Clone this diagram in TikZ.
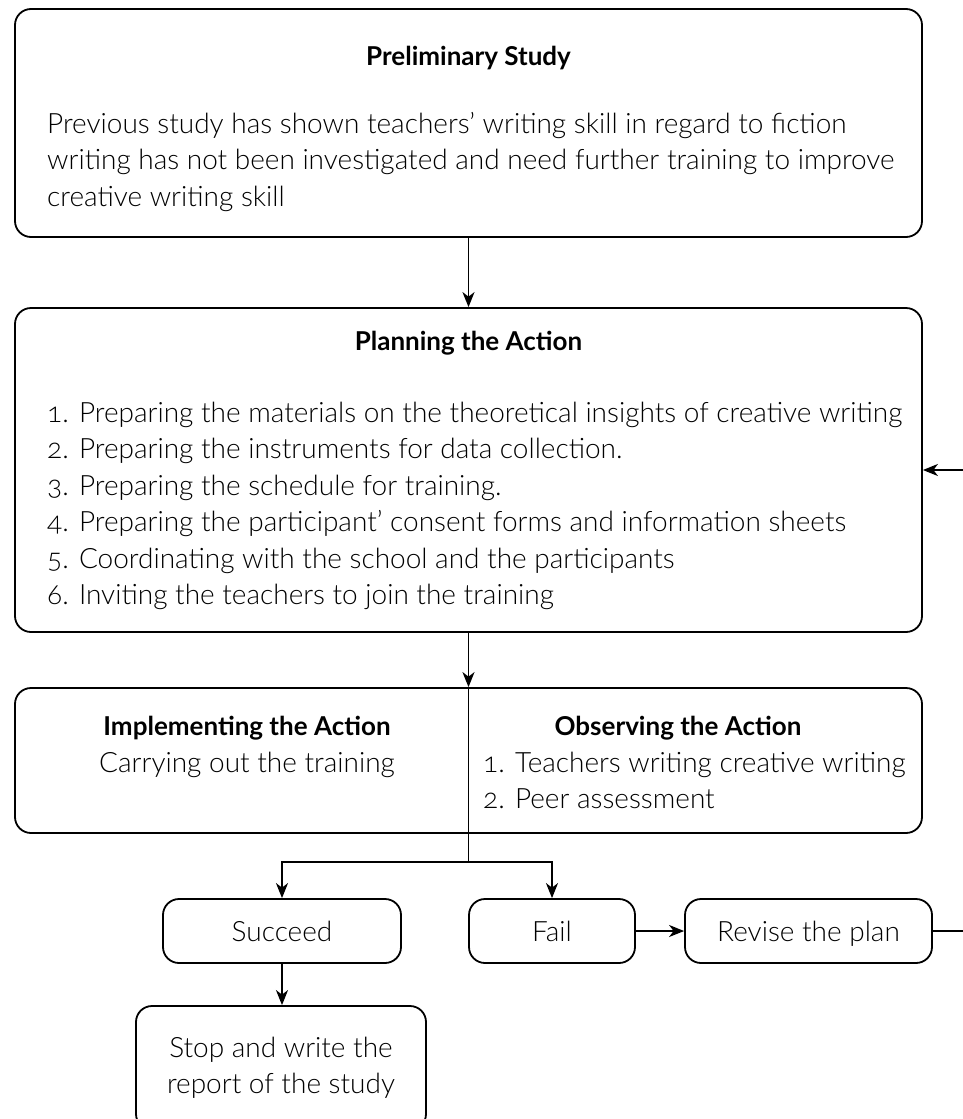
\documentclass[tikz,border=0pt]{standalone}
\usepackage{fontspec}
\IfFontExistsTF{Lato Light}
  {\setmainfont{Lato Light}[BoldFont={Lato Bold}, Numbers=OldStyle]}
  {\setmainfont{Lato}[Numbers=OldStyle]}
\usetikzlibrary{positioning, calc, arrows.meta}
\newcommand\boxfont{\fontsize{28}{36.4}\selectfont}
\newcommand\headfont{\fontsize{26}{30}\selectfont\bfseries}
\tikzset{
  panel/.style={draw, line width=1.8, rounded corners=16, minimum width=907},
  pill/.style={draw, line width=1.8, rounded corners=16, minimum height=64, text height=20, text depth=0, font=\boxfont},
  flow/.style={-{Stealth[length=15, width=12, inset=4.5]}, line width=1.8},
  wire/.style={line width=1.8},
}
\begin{document}
\begin{tikzpicture}[x=1pt, y=-1pt, every node/.style={align=center, inner sep=0}]
\useasboundingbox (0,0) rectangle (963,1119);
% the three wide panels
\node[panel, minimum height=228] (prelim) at (468.5,123) {};
\node[panel, minimum height=324] (plan) at (468.5,470) {};
\node[panel, minimum height=145] (act) at (468.5,760.5) {};
\node[anchor=base, font=\headfont] (prelim title) at (468.5,65) {Preliminary Study};
\node[anchor=north west, align=left, font=\boxfont] (prelim text) at (47,112) {Previous study has shown teachers’ writing skill in regard to fiction\\writing has not been investigated and need further training to improve\\creative writing skill};
\node[anchor=base, font=\headfont] (plan title) at (468.5,350) {Planning the Action};
\node[anchor=north west, align=left, font=\boxfont] (plan list) at (47,402) {1. Preparing the materials on the theoretical insights of creative writing\\2. Preparing the instruments for data collection.\\3. Preparing the schedule for training.\\4. Preparing the participant’ consent forms and information sheets\\5. Coordinating with the school and the participants\\6. Inviting the teachers to join the training};
\node[anchor=base, font=\headfont] (impl title) at (247,735) {Implementing the Action};
\node[anchor=base, font=\boxfont] (impl text) at (247,772) {Carrying out the training};
\node[anchor=base, font=\headfont] (obs title) at (678,735) {Observing the Action};
\node[anchor=north west, align=left, font=\boxfont] (obs list) at (483,752) {1. Teachers writing creative writing\\2. Peer assessment};
% outcome boxes
\node[pill, minimum width=238] (succeed) at (282,931) {Succeed};
\node[pill, minimum width=166] (fail) at (552,931) {Fail};
\node[pill, minimum width=247] (revise) at (808.5,931) {Revise the plan};
\node[draw, line width=1.8, rounded corners=16, minimum width=290, minimum height=124, font=\boxfont] (stop) at (281,1068) {Stop and write the\\report of the study};
% connectors
\draw[flow] (prelim.south) -- (plan.north);
\draw[flow] (plan.south) -- (act.north);
\draw[wire] (act.north) -- (act.south) -- ++(0,28) coordinate (split);
\draw[flow] (split) -| (succeed.north);
\draw[flow] (split) -| (fail.north);
\draw[flow] (succeed.south) -- (succeed.south |- stop.north);
\draw[flow] (fail) -- (revise);
\draw[flow] (revise.east) -- ++(40,0) coordinate (back) |- (plan.east);
\end{tikzpicture}
\end{document}
